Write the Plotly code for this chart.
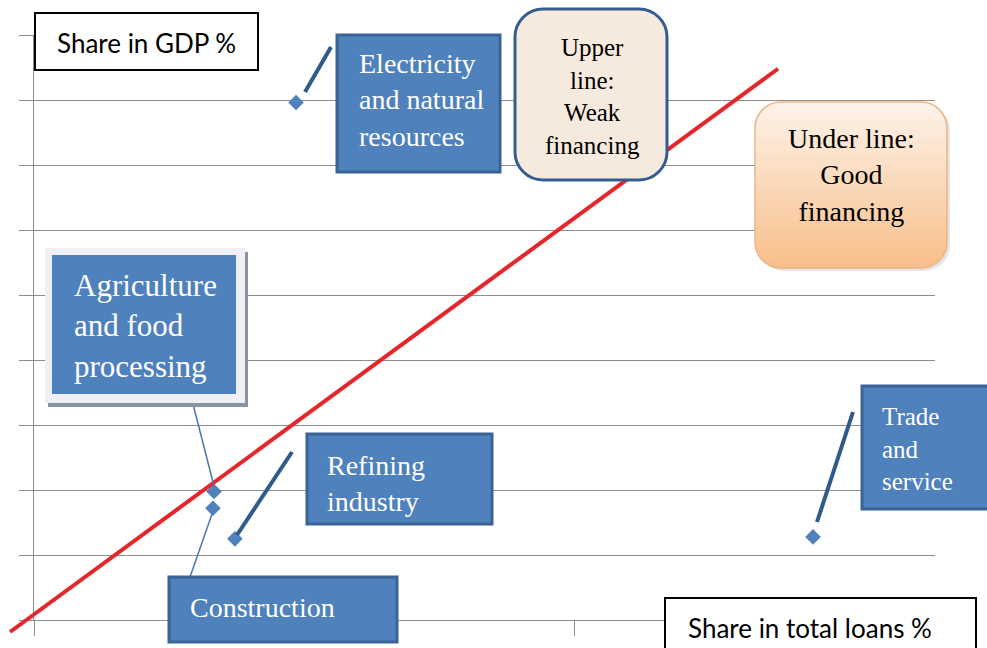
"""
Share in GDP vs share in total loans, by sector
"""
import plotly.graph_objects as go

W, H = 987, 648

# ---- data ----
sectors = ["Electricity and natural resources", "Agriculture and food processing",
           "Construction", "Refining industry", "Trade and service"]
loan_share = [14.54, 9.99, 9.93, 11.15, 43.23]   # x: share in total loans %
gdp_share = [7.97, 1.98, 1.72, 1.25, 1.28]       # y: share in GDP %

# red dividing line (drawn a bit past the axes, as in the original)
line_x = [-1.33, 41.29]
line_y = [-0.185, 8.49]

x_range = [0, 50]
y_range = [0, 9.01]   # tiny headroom so the top gridline at 9 is kept

# ---- plot area in pixels ----
PX_L, PX_R, PX_B, PX_T = 34, 935, 620, 35
kx = (PX_R - PX_L) / (x_range[1] - x_range[0])
ky = (PX_B - PX_T) / (y_range[1] - y_range[0])

BLUE = "#4F81BD"
BLUE_DARK = "#3A6396"
GRID = "#8E8E8E"
SERIF = "Liberation Serif"
SANS = "Lato"


def px(x):
    return x / W


def py(y):
    return 1 - y / H


def rounded_path(x0, y0, x1, y1, r):
    k = 0.5523 * r
    pts = [
        ("M", [(x0 + r, y0)]),
        ("L", [(x1 - r, y0)]),
        ("C", [(x1 - r + k, y0), (x1, y0 + r - k), (x1, y0 + r)]),
        ("L", [(x1, y1 - r)]),
        ("C", [(x1, y1 - r + k), (x1 - r + k, y1), (x1 - r, y1)]),
        ("L", [(x0 + r, y1)]),
        ("C", [(x0 + r - k, y1), (x0, y1 - r + k), (x0, y1 - r)]),
        ("L", [(x0, y0 + r)]),
        ("C", [(x0, y0 + r - k), (x0 + r - k, y0), (x0 + r, y0)]),
    ]
    out = ""
    for cmd, ps in pts:
        out += cmd + " " + " ".join(f"{px(a):.5f},{py(b):.5f}" for a, b in ps) + " "
    return out + "Z"


def inset(y, y0, y1, r):
    d = min(y - y0, y1 - y)
    if d >= r:
        return 0.0
    d = max(d, 0.0)
    return r - (r * r - (r - d) ** 2) ** 0.5


def gradient_bands(x0, y0, x1, y1, r, c_top, c_bot, n=36):
    shapes = []
    h = (y1 - y0) / n
    for i in range(n):
        ya = y0 + i * h
        yb = min(y1, ya + h + 0.8)
        ys = [ya + (yb - ya) * t / 4 for t in range(5)]
        left = [(x0 + inset(y, y0, y1, r), y) for y in ys]
        right = [(x1 - inset(y, y0, y1, r), y) for y in reversed(ys)]
        poly = left + right
        path = "M " + " L ".join(f"{px(a):.5f},{py(b):.5f}" for a, b in poly) + " Z"
        t = (i + 0.5) / n
        col = "rgb({},{},{})".format(*[round(c_top[j] + (c_bot[j] - c_top[j]) * t) for j in range(3)])
        shapes.append(dict(type="path", path=path, xref="paper", yref="paper",
                           fillcolor=col, line=dict(width=0), layer="above"))
    return shapes


def rect(x0, y0, x1, y1, fill, line_color=None, line_width=0):
    return dict(type="rect", xref="paper", yref="paper",
                x0=px(x0), x1=px(x1), y0=py(y1), y1=py(y0),
                fillcolor=fill, layer="above",
                line=dict(color=line_color or fill, width=line_width))


def seg(x0, y0, x1, y1, color, width):
    return dict(type="line", xref="paper", yref="paper",
                x0=px(x0), y0=py(y0), x1=px(x1), y1=py(y1),
                line=dict(color=color, width=width), layer="above")


def label(text, x, y, size, color="white", family=SERIF, anchor="left"):
    return dict(text=text, xref="paper", yref="paper", x=px(x), y=py(y),
                xanchor=anchor, yanchor="middle", align=anchor if anchor != "center" else "center",
                showarrow=False, font=dict(family=family, size=size, color=color))


fig = go.Figure()

# sector points
fig.add_trace(go.Scatter(
    x=loan_share, y=gdp_share, mode="markers", text=sectors,
    marker=dict(symbol="diamond", size=12, color=BLUE),
    xaxis="x", yaxis="y", showlegend=False, hoverinfo="text"
))

# red line on a full-canvas overlay with the same scale (so it can run past the axes)
fig.add_trace(go.Scatter(
    x=line_x, y=line_y, mode="lines",
    line=dict(color="#E5262B", width=4),
    xaxis="x2", yaxis="y2", showlegend=False, hoverinfo="skip"
))

shapes = []
# axis titles boxes
shapes.append(rect(35, 13, 258, 70, "white", "black", 2))
shapes.append(rect(665, 598, 976, 665, "white", "black", 2))

# leader lines
shapes.append(seg(305, 92, 331, 47, "#2F5A8C", 4))
shapes.append(seg(237, 535, 292, 452, "#2F5A8C", 4))
shapes.append(seg(817, 522, 853, 412, "#2F5A8C", 4))
shapes.append(seg(193, 404, 214, 486, "#4A76A8", 1.5))
shapes.append(seg(212, 514, 190, 577, "#4A76A8", 1.5))

# blue label boxes
shapes.append(rect(337, 35, 500, 172, BLUE, BLUE_DARK, 3))
shapes.append(rect(48, 252, 248, 407, "#8A93A6"))
shapes.append(rect(45, 248, 245, 403, "#EEF0F3"))
shapes.append(rect(52, 255, 236, 394, BLUE))
shapes.append(rect(307, 434, 492, 524, BLUE, BLUE_DARK, 3))
shapes.append(rect(169, 577, 397, 642, BLUE, BLUE_DARK, 3))
shapes.append(rect(862, 386, 995, 509, BLUE, BLUE_DARK, 3))

# "Upper line" rounded box
shapes.append(dict(type="path", path=rounded_path(515, 9, 667, 180, 28), xref="paper", yref="paper",
                   fillcolor="#F6EADE", line=dict(color="#335D91", width=3), layer="above"))

# "Under line" rounded box with gradient
shapes.append(dict(type="path", path=rounded_path(758, 105, 950, 271, 26), xref="paper", yref="paper",
                   fillcolor="rgba(0,0,0,0.10)", line=dict(width=0), layer="above"))
shapes += gradient_bands(755, 102, 947, 268, 26, (253, 243, 234), (248, 190, 138))
shapes.append(dict(type="path", path=rounded_path(755, 102, 947, 268, 26), xref="paper", yref="paper",
                   fillcolor="rgba(0,0,0,0)", line=dict(color="#EDB585", width=1.5), layer="above"))

annotations = [
    label("Share in GDP %", 55, 43, 26, color="black", family=SANS),
    label("Share in total loans %", 686, 628, 26, color="black", family=SANS),
    label("Electricity<br>and natural<br>resources", 357, 100, 28),
    label("Agriculture<br>and food<br>processing", 72, 326, 31),
    label("Refining<br>industry", 325, 483, 28),
    label("Construction", 188, 607, 28),
    label("Trade<br>and<br>service", 880, 449, 25),
    label("Upper<br>line:<br>Weak<br>financing", 592, 96, 25, color="black", anchor="center"),
    label("Under line:<br>Good<br>financing", 851, 175, 28, color="black", anchor="center"),
]

fig.update_layout(
    width=W, height=H,
    margin=dict(l=0, r=0, t=0, b=0),
    paper_bgcolor="white",
    plot_bgcolor="rgba(0,0,0,0)",
    showlegend=False,
    xaxis=dict(domain=[px(PX_L), px(PX_R)], range=x_range, tick0=0, dtick=30,
               showgrid=False, zeroline=False, showline=True, linecolor=GRID, linewidth=1,
               ticks="outside", ticklen=15, tickcolor=GRID, tickwidth=1,
               showticklabels=False, anchor="y", fixedrange=True),
    yaxis=dict(domain=[py(PX_B), py(PX_T)], range=y_range, tick0=0, dtick=1,
               showgrid=True, gridcolor=GRID, gridwidth=1, zeroline=False,
               showline=True, linecolor=GRID, linewidth=1,
               ticks="outside", ticklen=14, tickcolor=GRID, tickwidth=1,
               showticklabels=False, anchor="x", fixedrange=True),
    xaxis2=dict(domain=[0, 1], range=[-PX_L / kx, (W - PX_L) / kx], visible=False,
                anchor="y2", fixedrange=True),
    yaxis2=dict(domain=[0, 1], range=[-(H - PX_B) / ky, PX_B / ky], visible=False,
                anchor="x2", fixedrange=True),
    shapes=shapes,
    annotations=annotations,
)

# drop the browser's default body margin so the figure sits at the window's corner
fig.write_html("out.html", config={"displayModeBar": False},
               post_script="document.body.style.margin='0px';")
